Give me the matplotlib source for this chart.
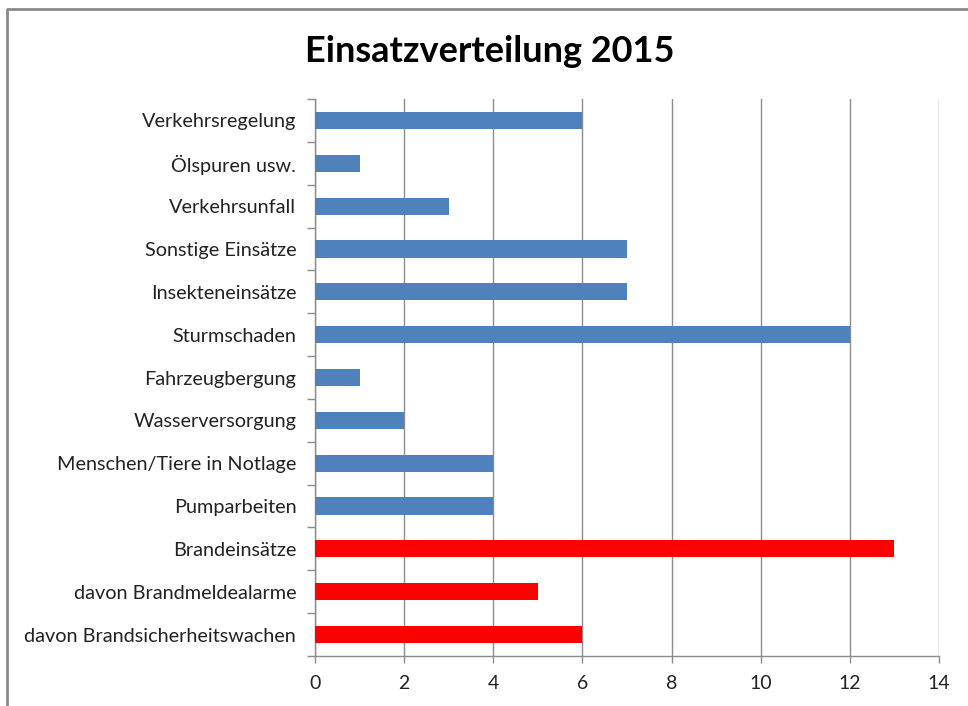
import matplotlib
matplotlib.use("Agg")
import matplotlib.pyplot as plt
from matplotlib.lines import Line2D

categories = [
    "Verkehrsregelung", "Ölspuren usw.", "Verkehrsunfall", "Sonstige Einsätze",
    "Insekteneinsätze", "Sturmschaden", "Fahrzeugbergung", "Wasserversorgung",
    "Menschen/Tiere in Notlage", "Pumparbeiten", "Brandeinsätze",
    "davon Brandmeldealarme", "davon Brandsicherheitswachen",
]
values = [6, 1, 3, 7, 7, 12, 1, 2, 4, 4, 13, 5, 6]
is_fire = [False] * 10 + [True] * 3
x_ticks = [0, 2, 4, 6, 8, 10, 12, 14]
title = "Einsatzverteilung 2015"

BLUE = "#4F81BD"
RED = "#FF0000"
GRID = "#8C8C8C"
FONT = "Lato"

fig = plt.figure(figsize=(9.68, 7.06), dpi=100)
ax = fig.add_axes([315 / 968, 1 - 656 / 706, (939 - 315) / 968, (656 - 99) / 706])

ypos = list(range(len(categories)))
colors = [RED if f else BLUE for f in is_fire]
ax.barh(ypos, values, height=0.4, color=colors, zorder=3)

ax.set_ylim(len(categories) - 0.5, -0.5)
ax.set_xlim(0, 14)
ax.set_xticks(x_ticks)
ax.set_xticklabels([str(t) for t in x_ticks], fontsize=14, family=FONT, color="#222222")
ax.set_yticks(ypos)
ax.set_yticklabels(categories, fontsize=14.3, family=FONT, color="#222222")
ax.tick_params(axis="y", length=0, pad=13.5)
ax.tick_params(axis="x", length=5, width=1, color=GRID, pad=9)
# category boundary ticks
ax.set_yticks([i - 0.5 for i in range(len(categories) + 1)], minor=True)
ax.tick_params(axis="y", which="minor", length=5.5, width=1, color=GRID)

ax.grid(axis="x", color=GRID, linewidth=1, zorder=0)
for s in ["top", "right"]:
    ax.spines[s].set_visible(False)
for s in ["left", "bottom"]:
    ax.spines[s].set_color(GRID)
    ax.spines[s].set_linewidth(1)

fig.text(490 / 968, 1 - 52 / 706, title, ha="center", va="center",
         fontsize=26, fontweight="bold", family=FONT)

# chart border (visible top and left edges)
fig.add_artist(Line2D([7 / 968, 7 / 968, 1.0], [0.0, 1 - 9 / 706, 1 - 9 / 706],
                      transform=fig.transFigure, color="#8A8A8A", linewidth=2))

fig.savefig("out.png", dpi=100)
